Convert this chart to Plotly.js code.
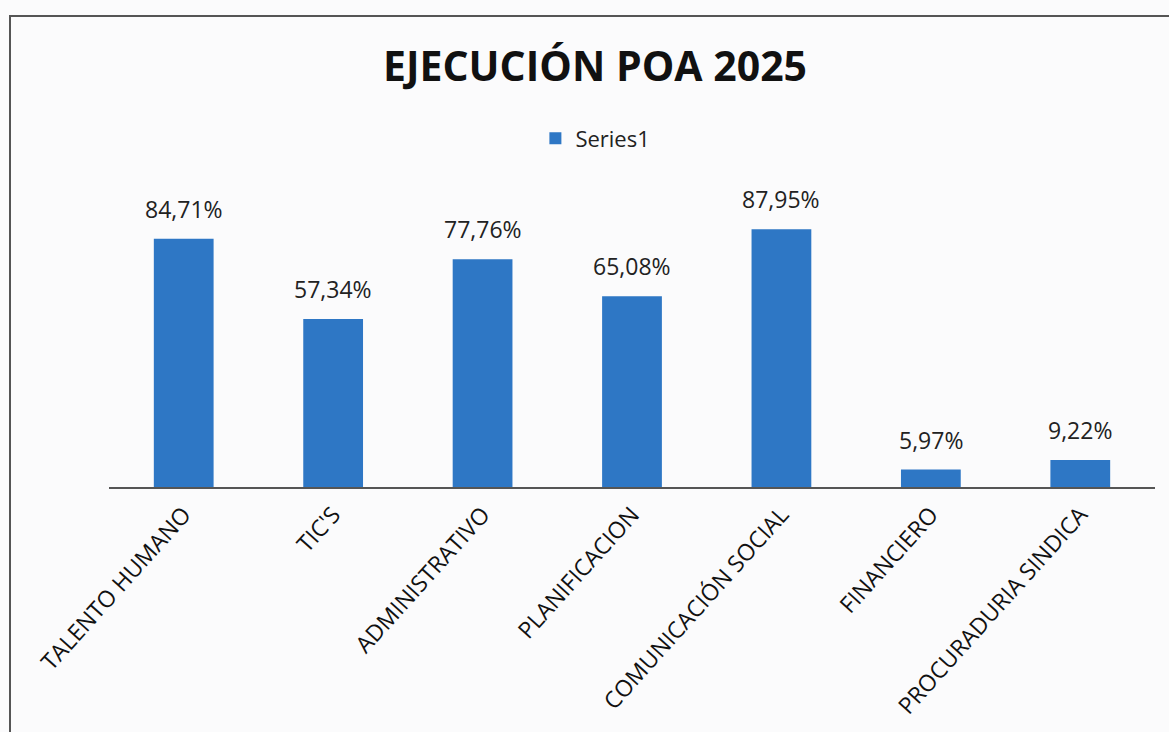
<!DOCTYPE html>
<html>
<head>
<meta charset="utf-8">
<script src="https://cdn.plot.ly/plotly-3.0.1.min.js"></script>
<style>
  html, body { margin: 0; padding: 0; background: #fbfbfc; }
  #chart { width: 1169px; height: 732px; position: relative; }
  #frame {
    position: absolute; left: 9px; top: 15px; width: 1170px; height: 730px;
    border-left: 2px solid #555; border-top: 2px solid #555; pointer-events: none;
  }
</style>
</head>
<body>
<div id="chart"></div>
<div id="frame"></div>
<script>
// Ejecución POA 2025 - porcentaje por área
const areas = ['TALENTO HUMANO', "TIC'S", 'ADMINISTRATIVO', 'PLANIFICACION',
               'COMUNICACIÓN SOCIAL', 'FINANCIERO', 'PROCURADURIA SINDICA'];
const ejecucion = [84.71, 57.34, 77.76, 65.08, 87.95, 5.97, 9.22];
const etiquetas = ['84,71%', '57,34%', '77,76%', '65,08%', '87,95%', '5,97%', '9,22%'];

const font = '"Open Sans", "DejaVu Sans", sans-serif';

const trace = {
    type: 'bar',
    x: areas,
    y: ejecucion,
    name: 'Series1',
    marker: { color: '#2e77c5', line: { width: 0 } },
    hoverinfo: 'x+y'
};

// data labels sit a bit above each bar, like the excel ones
const labels = areas.map((a, i) => ({
    x: a,
    y: ejecucion[i],
    text: etiquetas[i],
    showarrow: false,
    yanchor: 'bottom',
    yshift: 12,
    font: { family: font, size: 23, color: '#222' }
}));

const layout = {
    width: 1169,
    height: 732,
    margin: { l: 109, r: 14, t: 194, b: 245 },
    paper_bgcolor: 'rgba(0,0,0,0)',
    plot_bgcolor: 'rgba(0,0,0,0)',
    font: { family: font, color: '#111' },
    title: {
        text: '<b>EJECUCIÓN POA 2025</b>',
        font: { family: font, size: 41, color: '#111' },
        x: 0.509, xanchor: 'center',
        y: 1 - 67 / 732, yanchor: 'middle', yref: 'container'
    },
    showlegend: true,
    legend: {
        orientation: 'h',
        x: 0.465, xanchor: 'center',
        y: 1.19, yanchor: 'middle',
        font: { family: font, size: 22, color: '#222' },
        itemwidth: 30,
        bgcolor: 'rgba(0,0,0,0)'
    },
    annotations: labels,
    bargap: 0.6,
    xaxis: {
        tickangle: -48,
        tickfont: { family: font, size: 23, color: '#111' },
        ticklabelstandoff: 3,
        showline: true,
        linecolor: '#555',
        linewidth: 2,
        ticks: '',
        showgrid: false,
        fixedrange: true
    },
    yaxis: {
        range: [0, 100],
        visible: false,
        showgrid: false,
        zeroline: false,
        fixedrange: true
    }
};

Plotly.newPlot('chart', [trace], layout, { displayModeBar: false, staticPlot: true });
</script>
</body>
</html>
